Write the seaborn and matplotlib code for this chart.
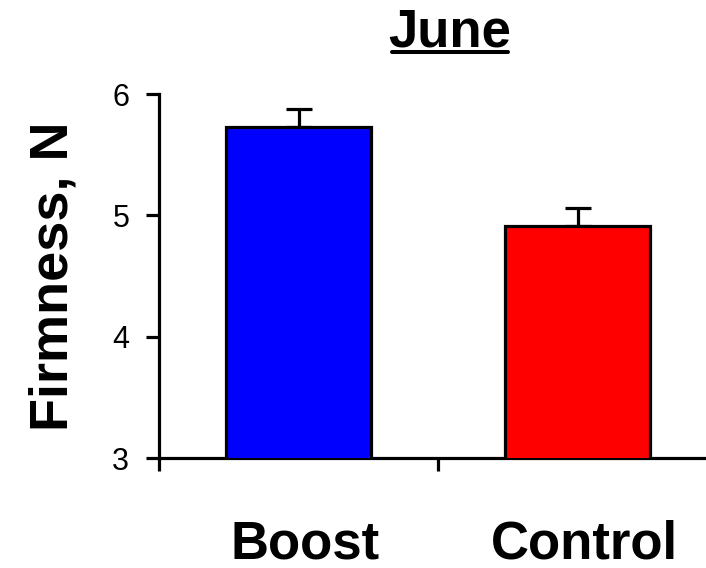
import matplotlib
matplotlib.use("Agg")
import matplotlib.pyplot as plt
import matplotlib.transforms as mtransforms
from matplotlib.lines import Line2D
import pandas as pd
import seaborn as sns

# データ
groups = ["Boost", "Control"]
firmness = [5.73, 4.91]
sem = [0.15, 0.15]
bar_colors = ["#0000FF", "#FF0000"]

sns.set_style("white")
plt.rcParams["font.family"] = ["Liberation Sans", "DejaVu Sans"]
for key in ["text.color", "axes.labelcolor", "xtick.color", "ytick.color"]:
    plt.rcParams[key] = "black"

df = pd.DataFrame({"group": groups, "firmness": firmness})

fig = plt.figure(figsize=(7.06, 5.68), dpi=100)
ax = fig.add_axes([159 / 706, 110 / 568, 558.4 / 706, 364 / 568])

LW = 2.3  # 線の太さ（約3px）

sns.barplot(
    data=df, x="group", y="firmness", hue="group",
    palette=dict(zip(groups, bar_colors)), width=0.52, saturation=1,
    edgecolor="black", linewidth=LW, errorbar=None,
    legend=False, ax=ax, zorder=3,
)

# 上側のみのエラーバー
ax.errorbar(
    range(len(groups)), firmness, yerr=[[0] * len(sem), sem],
    fmt="none", ecolor="black", elinewidth=LW, capsize=9.7,
    capthick=LW, zorder=2,
)

ax.set_ylim(3, 6)
ax.set_xlim(-0.5, 1.5)
ax.set_yticks([3, 4, 5, 6])
ax.set_xlabel("")
ax.set_ylabel("Firmness, N", fontsize=39, fontweight="bold")
ax.yaxis.set_label_coords(-0.145, 0.5)

# スパイン
for side in ["top", "right"]:
    ax.spines[side].set_visible(False)
for side in ["left", "bottom"]:
    ax.spines[side].set_linewidth(LW)
    ax.spines[side].set_color("black")

ax.tick_params(axis="y", direction="out", length=9.4, width=LW,
               labelsize=22, pad=12, left=True, colors="black")
ax.tick_params(axis="x", which="major", length=0, pad=44, labelsize=38)
for lbl in ax.get_xticklabels():
    lbl.set_fontweight("bold")
    lbl.set_transform(lbl.get_transform() + mtransforms.ScaledTranslation(
        6.5 / 100, 0, fig.dpi_scale_trans))
ax.set_xticks([-0.5, 0.5, 1.5], minor=True)
ax.tick_params(axis="x", which="minor", direction="out", length=9.4,
               width=LW, bottom=True, color="black")
ax.grid(False)

# タイトル（下線付き）
title = fig.text(450 / 706, 1 - 46.7 / 568, "June", fontsize=38,
                 fontweight="bold", ha="center", va="baseline")
fig.canvas.draw()
bb = title.get_window_extent().transformed(fig.transFigure.inverted())
uy = 1 - 52 / 568
fig.add_artist(Line2D([bb.x0 + 3 / 706, bb.x1 - 3 / 706], [uy, uy],
                      color="black", linewidth=2.9,
                      transform=fig.transFigure))

fig.savefig("out.png", dpi=100)
